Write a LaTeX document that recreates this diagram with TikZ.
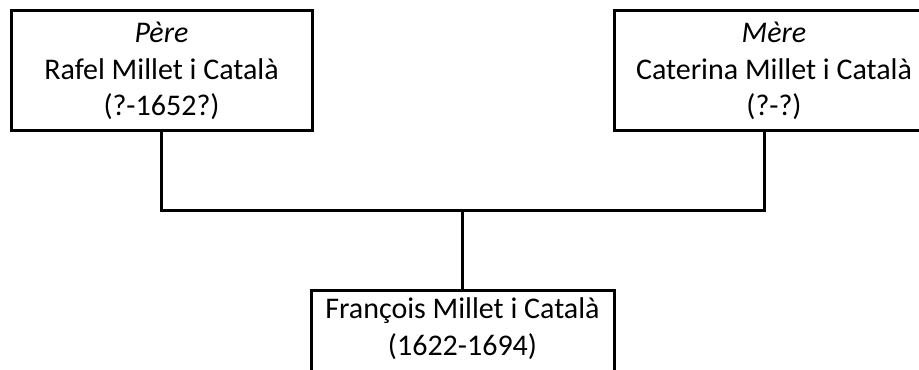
\documentclass[tikz,border=0pt]{standalone}
\usepackage{fontspec}
\setmainfont{Carlito}

\begin{document}
\begin{tikzpicture}[line join=miter,
  personbox/.style={draw,black,line width=1.5bp,inner sep=0pt,align=center,
    font=\fontsize{15bp}{18.25bp}\selectfont,text height=52.5bp,text depth=7.5bp},
  link/.style={black,line width=1.5bp}]
%%
\useasboundingbox (0bp,0bp) rectangle (459.5bp,185bp);
\node (pere) at (80.75bp,149.5bp) [personbox,minimum width=150.5bp] {\textit{Père}\\Rafel Millet i Català\\(?-1652?)};
  \node (mere) at (387bp,149.5bp) [personbox,minimum width=160bp] {\textit{Mère}\\Caterina Millet i Català\\(?-?)};
  \node (fils) at (231.25bp,9.5bp) [personbox,minimum width=151.5bp,text height=32bp,text depth=28bp] {François Millet i Català\\(1622-1694)};
  \coordinate (join) at (231.25bp,79.5bp);
  \coordinate (mere_leg) at (382bp,119.5bp);
  \draw [link] (pere.south) |- (join) -| (mere_leg);
  \draw [link] (join) -- (fils.north);
%
\end{tikzpicture}
\end{document}
